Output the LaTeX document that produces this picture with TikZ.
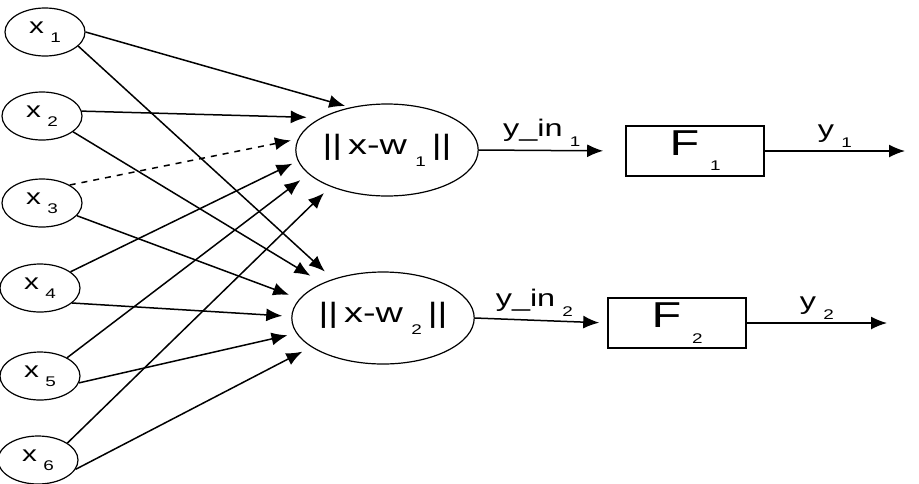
\documentclass[tikz,border=0pt]{standalone}
\usepackage{fontspec}
\setmainfont{Liberation Sans}[FakeStretch=1.35]
\usetikzlibrary{shapes.geometric}
\usetikzlibrary{arrows.meta}
\tikzset{>={Latex[length=8pt,width=6.5pt]}}
\newcommand{\lowidx}[1]{\kern0.3em\raisebox{-0.8ex}{\fontsize{7}{7}\selectfont #1}}
\tikzset{
  inp/.style={ellipse, draw, line width=0.6pt, minimum width=40pt, minimum height=24pt, inner sep=0pt, font=\fontsize{11}{11}\selectfont},
  dist/.style={ellipse, draw, line width=0.6pt, minimum width=90pt, minimum height=46pt, inner sep=0pt, font=\fontsize{14}{14}\selectfont},
  act/.style={draw, line width=0.8pt, minimum width=69pt, minimum height=25pt, inner sep=0pt, font=\fontsize{18}{18}\selectfont},
  conn/.style={line width=0.75pt, ->},
  lbl/.style={font=\fontsize{12}{12}\selectfont, inner sep=1.5pt},
}

\begin{document}
\begin{tikzpicture}[x=0.5pt, y=-0.5pt]
    \useasboundingbox (0,0) rectangle (919,483);
    % inputs
    \node [inp] (x1) at (45,32) {x\lowidx{1}};
    \node [inp] (x2) at (42,116) {x\lowidx{2}};
    \node [inp] (x3) at (42,203) {x\lowidx{3}};
    \node [inp] (x4) at (40,288) {x\lowidx{4}};
    \node [inp] (x5) at (40,376) {x\lowidx{5}};
    \node [inp] (x6) at (38,460) {x\lowidx{6}};
    % distance units
    \node [dist] (w1) at (387,150) {||\kern3pt x-w\lowidx{1}\kern3pt ||};
    \node [dist] (w2) at (383,318) {||\kern3pt x-w\lowidx{2}\kern3pt ||};
    % transfer boxes
    \node [act] (F1) at (695,151) {F\lowidx{1}};
    \node [act] (F2) at (677,323) {F\lowidx{2}};
    \coordinate (y1out) at (905,151);
    \coordinate (y2out) at (887,323);

    \foreach \s/\a/\t/\b/\g in {x1/0/w1/131/2.5, x2/7/w1/154/7, x4/28/w1/187/3, x5/34/w1/197/5, x6/30/w1/213/4.5,
        x1/-23/w2/142/5.5, x2/-27/w2/150/7, x3/-20/w2/167/5.5, x4/-25/w2/179/4.5, x5/-10/w2/190/4.5, x6/-14/w2/202/5}
        \draw [conn, shorten >=\g pt] (\s.\a) -- (\t.\b);
    \draw [conn, dashed, shorten >=3.5pt] (x3.33) -- (w1.173);

    \draw [conn, shorten >=11pt] (w1.east) -- (F1.west) node [lbl, pos=0.43, above] {y\_in\lowidx{1}};
    \draw [conn, shorten >=4pt] (w2.east) -- (F2.west) node [lbl, pos=0.45, above] {y\_in\lowidx{2}};
    \draw [conn] (F1.east) -- (y1out) node [lbl, midway, above] {y\lowidx{1}};
    \draw [conn] (F2.east) -- (y2out) node [lbl, midway, above] {y\lowidx{2}};
\end{tikzpicture}
\end{document}
